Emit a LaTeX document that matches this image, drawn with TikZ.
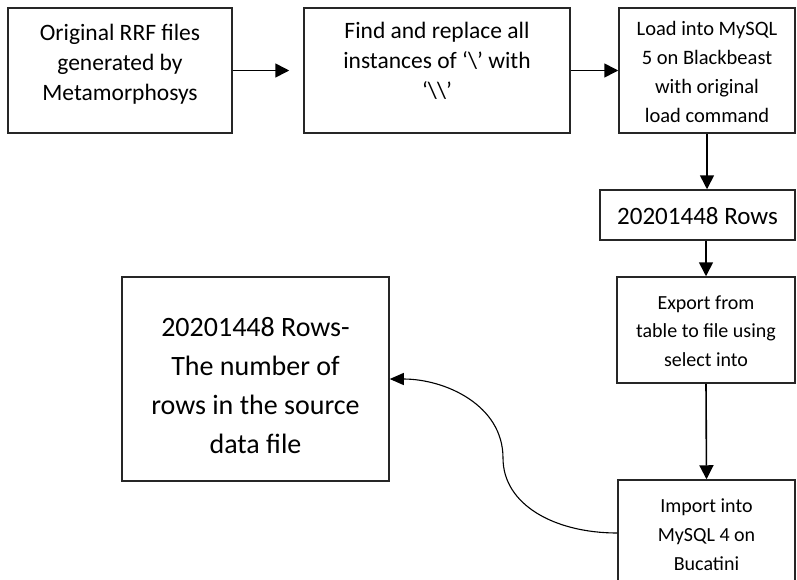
\documentclass[tikz,border=0pt]{standalone}
\usepackage{fontspec}
\setmainfont{Carlito}
\usetikzlibrary{arrows.meta}

\tikzset{
  box/.style={draw=black!85, line width=1.5pt, fill=white, inner sep=0pt},
  txt/.style={align=center, inner sep=0pt},
  flow/.style={line width=1.6pt, -{Triangle[length=14pt,width=14pt]}},
  curvearrow/.style={line width=1.1pt, -{Triangle[length=14pt,width=12pt]}}
}

\begin{document}
\begin{tikzpicture}[x=1pt, y=-1pt]
  \clip (0,0) rectangle (797,579);
  \fill[white] (0,0) rectangle (797,579);

  % boxes
  \node[box, minimum width=224pt, minimum height=125pt] (b1) at (120,70.5) {};
  \node[box, minimum width=266pt, minimum height=125pt] (b2) at (437,70.5) {};
  \node[box, minimum width=176pt, minimum height=125pt] (b3) at (707,70.5) {};
  \node[box, minimum width=195pt, minimum height=50pt]  (b4) at (697.5,215) {};
  \node[box, minimum width=178pt, minimum height=106pt] (b5) at (706,330) {};
  \node[box, minimum width=177pt, minimum height=120pt] (b6) at (706.5,540) {};
  \node[box, minimum width=267pt, minimum height=204pt] (b7) at (255.5,379) {};

  % box texts
  \node[txt, font=\fontsize{23.5}{30}\selectfont] (t1) at (120,64)
    {Original RRF files\\generated by\\Metamorphosys};
  \node[txt, font=\fontsize{23.5}{30}\selectfont] (t2) at (437,61)
    {Find and replace all\\instances of ‘\textbackslash’ with\\‘\textbackslash\textbackslash’};
  \node[txt, font=\fontsize{20.5}{29}\selectfont] (t3) at (707,72)
    {Load into MySQL\\5 on Blackbeast\\with original\\load command};
  \node[txt, font=\fontsize{25}{26}\selectfont] (t4) at (697.5,216)
    {20201448 Rows};
  \node[txt, font=\fontsize{20}{28.5}\selectfont] (t5) at (706,331)
    {Export from\\table to file using\\select into};
  \node[txt, font=\fontsize{20}{29}\selectfont] (t6) at (706.5,535)
    {Import into\\MySQL 4 on\\Bucatini};
  \node[txt, font=\fontsize{28}{39}\selectfont] (t7) at (255.5,386)
    {20201448 Rows-\\The number of\\rows in the source\\data file};

  % connectors
  \draw[flow, shorten >=14pt] (b1.east) -- (b2.west);
  \draw[flow] (b2.east) -- (b3.west);
  \draw[flow] (b3.south) -- (b3.south |- b4.north);
  \draw[flow] (b5.north |- b4.south) -- (b5.north);
  \draw[flow] (b5.south) -- (b6.north);

  \coordinate (bend) at (503,458);
  \draw[curvearrow] ([yshift=7pt]b6.west)
    .. controls (555,533) and (503,505) .. (bend)
    .. controls (503,405) and (445,379) .. (b7.east);
\end{tikzpicture}
\end{document}
